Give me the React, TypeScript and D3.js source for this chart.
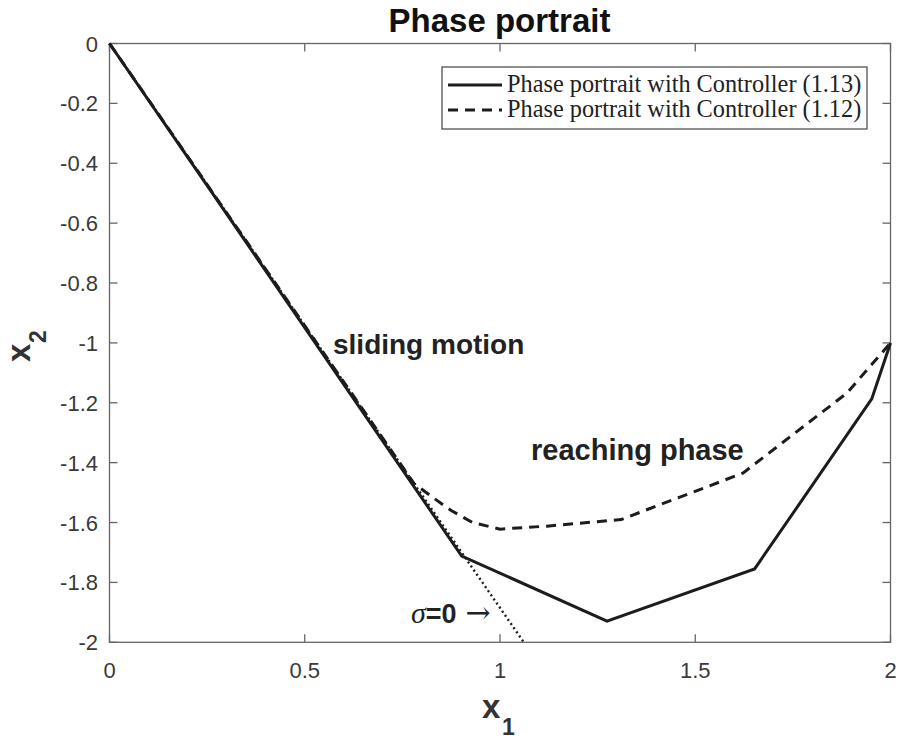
import React from "react";
import * as d3 from "d3";

// Trajectory with controller (1.13): [x1, x2] vertices
const ctrl113X = [0, 0.902, 1.274, 1.652, 1.952, 2.0];
const ctrl113Y = [0, -1.712, -1.929, -1.755, -1.187, -1.0];

// Trajectory with controller (1.12)
const ctrl112X = [0, 0.4, 0.78, 0.83, 0.875, 0.93, 1.0, 1.12, 1.31, 1.622, 1.888, 2.0];
const ctrl112Y = [0, -0.754, -1.47, -1.518, -1.56, -1.6, -1.622, -1.612, -1.59, -1.435, -1.168, -1.0];

// Sliding surface sigma = 0
const sigmaX = [0, 1.061];
const sigmaY = [0, -2.0];

const xTicks = [0, 0.5, 1, 1.5, 2];
const xTickLabels = ["0", "0.5", "1", "1.5", "2"];
const yTicks = [0, -0.2, -0.4, -0.6, -0.8, -1, -1.2, -1.4, -1.6, -1.8, -2];
const yTickLabels = ["0", "-0.2", "-0.4", "-0.6", "-0.8", "-1", "-1.2", "-1.4", "-1.6", "-1.8", "-2"];

const legendLabels = [
  "Phase portrait with Controller (1.13)",
  "Phase portrait with Controller (1.12)",
];

const W = 902;
const H = 740;
const left = 109.5;
const right = 890.5;
const top = 43.5;
const bottom = 642.3;

const sans = "'Liberation Sans', Arial, Helvetica, sans-serif";
const serif = "'Liberation Serif', 'Times New Roman', serif";
const axisColor = "#666";
const textColor = "#3a3a3a";
const lineColor = "#1c1c1c";

export default function App() {
  const x = d3.scaleLinear().domain([0, 2]).range([left, right]);
  const y = d3.scaleLinear().domain([-2, 0]).range([bottom, top]);
  const line = d3
    .line<[number, number]>()
    .x((d) => x(d[0]))
    .y((d) => y(d[1]));

  const zip = (a: number[], b: number[]) => a.map((v, i) => [v, b[i]] as [number, number]);
  const tickLen = 8;

  return (
    <svg
      width={W}
      height={H}
      style={{ position: "absolute", left: 0, top: 0, background: "#fff" }}
    >
      <rect x={0} y={0} width={W} height={H} fill="#fff" />

      {/* Title */}
      <text
        x={(left + right) / 2 - 0.5}
        y={32}
        textAnchor="middle"
        fontFamily={sans}
        fontWeight="bold"
        fontSize={33}
        fill="#111"
      >
        Phase portrait
      </text>

      {/* Axes box */}
      <rect
        x={left}
        y={top}
        width={right - left}
        height={bottom - top}
        fill="none"
        stroke={axisColor}
        strokeWidth={1.3}
      />

      {/* x ticks (bottom and top, pointing inward) */}
      {xTicks.map((t, i) => (
        <g key={"xt" + i}>
          <line x1={x(t)} x2={x(t)} y1={bottom} y2={bottom - tickLen} stroke={axisColor} strokeWidth={1.3} />
          <line x1={x(t)} x2={x(t)} y1={top} y2={top + tickLen} stroke={axisColor} strokeWidth={1.3} />
          <text
            x={x(t)}
            y={678}
            textAnchor="middle"
            fontFamily={sans}
            fontSize={22}
            fill={textColor}
          >
            {xTickLabels[i]}
          </text>
        </g>
      ))}

      {/* y ticks (left and right, pointing inward) */}
      {yTicks.map((t, i) => (
        <g key={"yt" + i}>
          <line x1={left} x2={left + tickLen} y1={y(t)} y2={y(t)} stroke={axisColor} strokeWidth={1.3} />
          <line x1={right} x2={right - tickLen} y1={y(t)} y2={y(t)} stroke={axisColor} strokeWidth={1.3} />
          <text
            x={98}
            y={y(t) + 8}
            textAnchor="end"
            fontFamily={sans}
            fontSize={22}
            fill={textColor}
          >
            {yTickLabels[i]}
          </text>
        </g>
      ))}

      {/* Sliding surface */}
      <path
        d={line(zip(sigmaX, sigmaY)) || ""}
        fill="none"
        stroke={lineColor}
        strokeWidth={2.4}
        strokeDasharray="2,3"
      />

      {/* Controller (1.12) */}
      <path
        d={line(zip(ctrl112X, ctrl112Y)) || ""}
        fill="none"
        stroke={lineColor}
        strokeWidth={3}
        strokeDasharray="10,7"
      />

      {/* Controller (1.13) */}
      <path
        d={line(zip(ctrl113X, ctrl113Y)) || ""}
        fill="none"
        stroke={lineColor}
        strokeWidth={3}
        strokeLinejoin="miter"
      />

      {/* Annotations */}
      <text x={333} y={354} fontFamily={sans} fontWeight="bold" fontSize={28} fill="#222">
        sliding motion
      </text>
      <text x={531} y={460} fontFamily={sans} fontWeight="bold" fontSize={29} fill="#222">
        reaching phase
      </text>
      <text x={411} y={623} fill="#222">
        <tspan fontFamily={serif} fontStyle="italic" fontSize={30}>σ</tspan>
        <tspan fontFamily={sans} fontWeight="bold" fontSize={27}>=0</tspan>
        <tspan fontFamily="'DejaVu Serif', serif" fontSize={30} dx={9}>→</tspan>
      </text>

      {/* Legend */}
      <rect x={442} y={67} width={425} height={62} fill="#fff" stroke="#444" strokeWidth={1.2} />
      {legendLabels.map((lbl, i) => (
        <g key={"lg" + i}>
          <line
            x1={448}
            x2={502}
            y1={85 + i * 25}
            y2={85 + i * 25}
            stroke={lineColor}
            strokeWidth={3}
            strokeDasharray={i === 1 ? "10,7" : undefined}
          />
          <text x={507} y={92 + i * 25} fontFamily={serif} fontSize={24.3} fill="#222">
            {lbl}
          </text>
        </g>
      ))}

      {/* Axis labels */}
      <text fill="#333" fontFamily={sans} fontWeight="bold">
        <tspan x={482} y={718} fontSize={33}>x</tspan>
        <tspan x={502} y={735} fontSize={23}>1</tspan>
      </text>
      <g transform="translate(30,362) rotate(-90)">
        <text fill="#333" fontFamily={sans} fontWeight="bold">
          <tspan x={0} y={0} fontSize={33}>x</tspan>
          <tspan x={19} y={16} fontSize={23}>2</tspan>
        </text>
      </g>
    </svg>
  );
}
